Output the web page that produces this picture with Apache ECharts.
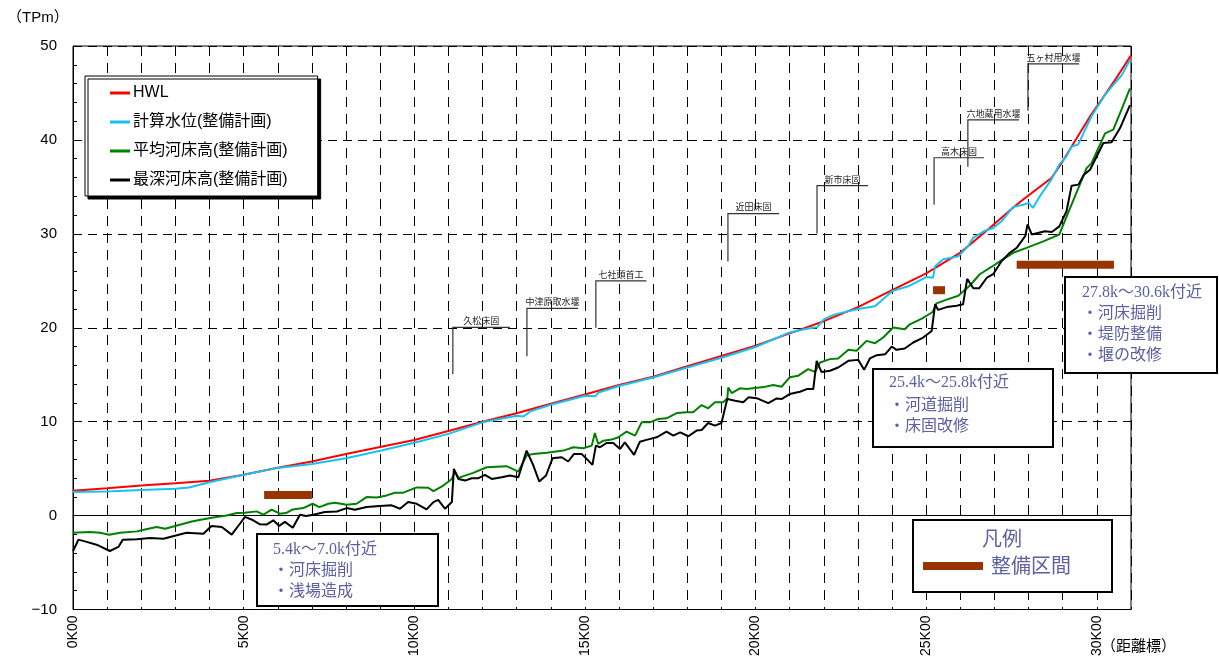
<!DOCTYPE html>
<html>
<head>
<meta charset="utf-8">
<script src="https://cdn.jsdelivr.net/npm/echarts@6/dist/echarts.min.js"></script>
<style>
html,body{margin:0;padding:0;background:#fff;}
#chart{width:1219px;height:659px;}
</style>
</head>
<body>
<div id="chart"></div>
<script>
// ---------- data ----------
const seriesNames = ['HWL', '計算水位(整備計画)', '平均河床高(整備計画)', '最深河床高(整備計画)'];

const hwl = [[0,2.65],[1,2.9],[2,3.2],[3,3.45],[4,3.72],[5,4.35],[6,5.1],[7,5.75],[8,6.55],[9,7.3],[10,8.05],[11,9.0],[12,10.0],[13,10.9],[14,11.9],[15,12.9],[16,13.9],[17,14.8],[18,15.9],[19,17.0],[20,18.1],[21,19.4],[22,20.7],[23,22.2],[24,24.0],[25,25.8],[26,28.0],[26.87,30.64],[27.55,32.8],[27.84,33.65],[28.67,35.95],[28.96,37.5],[29.26,39.3],[29.8,42.5],[30.14,44.3],[30.5,46.2],[31,49.0]];

const calcWL = [[0,2.5],[1,2.57],[2,2.72],[3,2.85],[3.4,3.0],[4,3.55],[5,4.34],[6,5.08],[7,5.5],[8,6.1],[9,6.9],[10,7.75],[11,8.7],[12,9.93],[13,10.64],[13.2,10.55],[13.4,11.1],[14,11.8],[15,12.76],[15.3,12.7],[15.4,13.1],[16,13.8],[17,14.7],[18,15.77],[19,16.8],[20,17.95],[21,19.5],[21.5,19.9],[21.8,20.05],[22,20.9],[22.3,21.4],[23,22.0],[23.5,22.3],[24,23.9],[24.5,24.45],[25,25.4],[25.2,25.33],[25.26,26.56],[25.5,27.3],[25.94,27.6],[26.23,28.7],[26.38,29.6],[26.7,30.3],[26.95,30.6],[27.21,31.35],[27.55,32.87],[27.84,33.1],[28.0,33.3],[28.13,32.77],[28.33,34.0],[28.67,35.8],[28.9,37.4],[29.11,38.25],[29.26,39.3],[29.45,39.5],[29.84,42.5],[30.24,44.8],[30.48,45.86],[30.73,46.9],[30.97,48.5]];

const avgBed = [[0,-1.82],[0.5,-1.75],[0.79,-1.82],[1.06,-2.03],[1.38,-1.82],[1.87,-1.68],[2.11,-1.47],[2.45,-1.22],[2.7,-1.4],[3.13,-0.97],[3.48,-0.62],[3.82,-0.4],[4.2,-0.15],[4.5,0.02],[4.8,0.27],[5.04,0.3],[5.38,0.45],[5.58,0.1],[5.82,0.63],[6.06,0.2],[6.24,0.27],[6.44,0.66],[6.75,0.8],[7.02,1.26],[7.22,0.9],[7.48,1.26],[7.68,1.36],[8.02,1.15],[8.31,1.26],[8.6,1.97],[8.9,1.93],[9.19,2.15],[9.43,2.44],[9.68,2.44],[10.07,3.0],[10.41,2.97],[10.56,2.6],[10.85,3.2],[11.1,3.9],[11.19,4.69],[11.3,4.0],[11.44,4.2],[11.73,4.55],[12.12,5.15],[12.7,5.26],[13.05,4.69],[13.29,6.39],[13.49,6.57],[13.88,6.68],[14.37,6.92],[14.66,7.28],[14.95,7.17],[15.2,7.45],[15.29,8.8],[15.39,7.63],[15.54,7.98],[15.78,8.09],[15.98,8.34],[16.22,8.94],[16.47,8.51],[16.66,9.93],[16.9,9.93],[17.15,10.28],[17.39,10.36],[17.69,10.92],[17.98,11.0],[18.17,11.0],[18.42,11.77],[18.61,11.42],[18.81,12.06],[19.05,12.06],[19.17,12.48],[19.2,13.65],[19.3,13.05],[19.54,13.55],[19.74,13.47],[20.23,13.68],[20.52,13.9],[20.76,13.72],[21.0,14.72],[21.25,14.9],[21.54,15.6],[21.74,15.3],[21.89,16.3],[22.18,16.66],[22.42,16.73],[22.72,17.65],[22.96,17.55],[23.25,18.6],[23.5,18.36],[23.74,18.96],[24.03,20.02],[24.37,19.84],[24.52,20.37],[24.87,20.97],[25.19,21.68],[25.3,22.6],[25.6,23.0],[25.94,23.4],[26.28,24.5],[26.57,25.7],[26.92,26.5],[27.21,27.2],[27.55,27.98],[27.94,28.5],[28.43,29.2],[28.9,29.93],[29.2,32.6],[29.4,34.36],[29.7,37.0],[29.84,37.5],[30.24,40.7],[30.48,41.1],[30.68,42.85],[30.97,45.5]];

const deepBed = [[0,-3.8],[0.16,-2.56],[0.4,-2.8],[0.69,-3.1],[1.08,-3.77],[1.33,-3.34],[1.46,-2.56],[1.87,-2.53],[2.26,-2.38],[2.65,-2.46],[3.04,-2.1],[3.33,-1.82],[3.82,-1.93],[4.06,-1.1],[4.36,-1.22],[4.65,-2.03],[4.89,-0.87],[5.04,-0.14],[5.28,-0.5],[5.48,-0.93],[5.67,-0.96],[5.87,-0.5],[6.04,-1.1],[6.21,-0.67],[6.44,-1.29],[6.65,0.09],[6.83,-0.05],[7.04,0.09],[7.38,0.38],[7.73,0.44],[8.02,0.8],[8.26,0.62],[8.6,0.91],[8.99,1.02],[9.34,1.09],[9.58,0.73],[9.82,1.44],[10.07,1.26],[10.36,0.66],[10.56,1.44],[10.7,1.68],[10.9,0.73],[11.1,1.44],[11.16,4.98],[11.29,3.9],[11.49,3.73],[11.68,3.98],[11.88,3.98],[12.07,4.34],[12.27,3.9],[12.56,4.09],[12.8,4.27],[13.05,4.09],[13.29,6.92],[13.49,5.33],[13.66,3.63],[13.86,4.27],[14.05,6.1],[14.32,6.21],[14.51,5.76],[14.68,6.57],[14.9,6.57],[15.05,6.04],[15.22,5.4],[15.32,7.45],[15.44,7.28],[15.64,7.74],[15.83,7.74],[16.03,7.1],[16.17,7.8],[16.44,6.46],[16.61,7.87],[16.83,8.09],[17.1,8.34],[17.39,8.94],[17.59,8.51],[17.79,8.87],[18.03,8.45],[18.27,9.05],[18.42,9.12],[18.61,9.86],[18.81,9.58],[19.0,9.86],[19.17,12.41],[19.4,12.23],[19.64,12.06],[19.79,12.59],[20.03,12.5],[20.37,11.98],[20.62,12.48],[20.76,12.41],[21.0,12.94],[21.3,13.19],[21.5,13.47],[21.69,13.47],[21.79,16.48],[21.93,15.3],[22.18,15.42],[22.42,15.77],[22.72,16.48],[23.01,16.58],[23.18,15.52],[23.35,16.73],[23.55,17.08],[23.8,17.19],[23.99,18.0],[24.13,17.65],[24.37,17.79],[24.62,18.43],[24.91,18.96],[25.16,19.66],[25.26,22.5],[25.35,21.9],[25.6,22.2],[25.89,22.35],[26.08,22.5],[26.2,25.2],[26.38,24.2],[26.55,24.2],[26.77,25.3],[26.96,25.7],[27.21,27.1],[27.45,27.98],[27.65,28.5],[27.9,29.75],[27.97,31.0],[28.09,29.93],[28.48,30.28],[28.68,30.2],[28.9,30.8],[29.11,32.4],[29.26,35.13],[29.46,35.24],[29.62,36.3],[29.8,36.83],[30.19,39.67],[30.43,39.74],[30.68,41.26],[30.97,43.7]];

// facility annotations: [km, base elevation, top elevation, end km]
const facilityNames = ['久松床固', '中津原取水堰', '七社頭首工', '近田床固', '新市床固', '高木床固', '六地蔵用水堰', '五ヶ村用水堰'];
const facilityLeaders = [[11.13,15.06,20.05,12.8],[13.3,16.97,22.07,14.8],[15.32,20.0,25.0,16.8],[19.19,27.06,32.16,20.69],[21.8,30.04,35.13,23.29],[25.23,33.1,38.1,26.69],[26.22,37.15,42.14,27.72],[27.98,43.1,48.09,29.48]];

// improvement sections: [start km, end km, elevation]
const sections = [[5.6,7.0,2.2],[25.2,25.55,24.0],[27.65,30.5,26.7]];

const xTickValues = [0,5,10,15,20,25,30];
const xTickLabels = ['0K00','5K00','10K00','15K00','20K00','25K00','30K00'];
const yTickValues = [-10,0,10,20,30,40,50];
const yTickLabels = ['−10','0','10','20','30','40','50'];

const callouts = [
  ['5.4k～7.0k付近', '・河床掘削', '・浅場造成'],
  ['25.4k～25.8k付近', '・河道掘削', '・床固改修'],
  ['27.8k～30.6k付近', '・河床掘削', '・堤防整備', '・堰の改修']
];
const legendBoxTitle = '凡例';
const legendBoxItem = '整備区間';
const yUnit = '（TPm）';
const xUnit = '（距離標）';

// ---------- chart ----------
const chart = echarts.init(document.getElementById('chart'));
const sansFont = "'Liberation Sans','Noto Sans CJK JP',sans-serif";
const calloutFont = "'Liberation Serif','Noto Sans CJK JP',serif";
const calloutColor = '#5c5fa3';
const brown = '#993300';

function lineSeries(name, data, color) {
  return {
    name: name, type: 'line', data: data, color: color,
    showSymbol: false, symbol: 'none', smooth: false,
    lineStyle: { color: color, width: 2 }, z: 3, animation: false
  };
}

const graphics = [];
function box(l, t, r, b, lines, lineYs, textX, fs) {
  graphics.push({ type: 'rect', z: 100, shape: { x: l, y: t, width: r - l, height: b - t },
    style: { fill: '#fff', stroke: '#000', lineWidth: 2 } });
  lines.forEach((s, i) => {
    graphics.push({ type: 'text', z: 101, x: textX, y: lineYs[i],
      style: { text: s, fill: calloutColor, fontSize: fs, fontFamily: calloutFont, verticalAlign: 'middle', align: 'left' } });
  });
}
box(257, 534, 438, 606, callouts[0], [550, 571, 592], 273, 16);
box(873, 369, 1053, 447, callouts[1], [383, 406, 427], 889, 16);
box(1065, 277, 1217, 373, callouts[2], [293, 314, 335, 356], 1082, 16);
// 凡例 box
graphics.push({ type: 'rect', z: 100, shape: { x: 913, y: 520, width: 199, height: 72 },
  style: { fill: '#fff', stroke: '#000', lineWidth: 2 } });
graphics.push({ type: 'text', z: 101, x: 1002, y: 540,
  style: { text: legendBoxTitle, fill: calloutColor, fontSize: 20, fontFamily: sansFont, align: 'center', verticalAlign: 'middle' } });
graphics.push({ type: 'rect', z: 101, shape: { x: 923, y: 562, width: 60, height: 8 }, style: { fill: brown } });
graphics.push({ type: 'text', z: 101, x: 991, y: 567,
  style: { text: legendBoxItem, fill: calloutColor, fontSize: 20, fontFamily: sansFont, align: 'left', verticalAlign: 'middle' } });
// unit labels
graphics.push({ type: 'text', z: 101, x: 7, y: 18,
  style: { text: yUnit, fill: '#000', fontSize: 15, fontFamily: sansFont, verticalAlign: 'middle' } });
graphics.push({ type: 'text', z: 101, x: 1101, y: 647,
  style: { text: xUnit, fill: '#000', fontSize: 15, fontFamily: sansFont, verticalAlign: 'middle' } });

const option = {
  backgroundColor: '#fff',
  animation: false,
  textStyle: { fontFamily: sansFont },
  grid: { left: 73, right: 88, top: 46, bottom: 48, show: true, borderColor: '#000', borderWidth: 1, backgroundColor: 'transparent' },
  legend: {
    data: seriesNames, orient: 'vertical', left: 85, top: 76,
    icon: 'rect', itemWidth: 20, itemHeight: 3, itemGap: 13,
    padding: [9, 30, 8, 25],
    backgroundColor: '#fff', borderColor: '#000', borderWidth: 1,
    shadowColor: '#000', shadowBlur: 0, shadowOffsetX: 3, shadowOffsetY: 3,
    textStyle: { fontSize: 16, color: '#000', fontFamily: sansFont, lineHeight: 16, padding: [0, 0, 0, -2] },
    selectedMode: false, z: 50
  },
  xAxis: {
    type: 'value', min: 0, max: 31, interval: 1,
    axisLine: { show: true, lineStyle: { color: '#000', width: 1 } },
    axisTick: { show: false },
    axisLabel: {
      rotate: 90, fontSize: 14, color: '#000', margin: 6, fontFamily: sansFont,
      formatter: v => { const i = xTickValues.indexOf(v); return i >= 0 ? xTickLabels[i] : ''; }
    },
    splitLine: { show: true, lineStyle: { color: '#000', type: [10, 7], width: 1 } }
  },
  yAxis: {
    type: 'value', min: -10, max: 50, interval: 10,
    axisLine: { show: true, lineStyle: { color: '#000', width: 1 } },
    axisTick: { show: true, inside: true, length: 5, lineStyle: { color: '#000' } },
    minorTick: { show: true, splitNumber: 5, length: 4, lineStyle: { color: '#000' } },
    axisLabel: {
      fontSize: 15, color: '#000', margin: 16, fontFamily: sansFont,
      formatter: v => { const i = yTickValues.indexOf(v); return i >= 0 ? yTickLabels[i] : ''; }
    },
    splitLine: { show: true, lineStyle: { color: '#000', type: [9, 6], width: 1 } }
  },
  graphic: graphics,
  series: [
    lineSeries(seriesNames[0], hwl, '#ff0000'),
    lineSeries(seriesNames[1], calcWL, '#14c3f2'),
    lineSeries(seriesNames[2], avgBed, '#008000'),
    lineSeries(seriesNames[3], deepBed, '#000000'),
    {
      type: 'custom', name: 'facilities', data: facilityLeaders, z: 4, silent: true,
      encode: { x: [0, 3], y: [1, 2] },
      renderItem: (params, api) => {
        const x = api.value(0), yb = api.value(1), yt = api.value(2), xe = api.value(3);
        const p0 = api.coord([x, yb]), p1 = api.coord([x, yt]), p2 = api.coord([xe, yt]);
        return { type: 'group', children: [
          { type: 'polyline', shape: { points: [p0, p1, p2] }, style: { stroke: '#333', lineWidth: 1.2, fill: null } },
          { type: 'text', x: (p1[0] + p2[0]) / 2, y: p1[1] - 2,
            style: { text: facilityNames[params.dataIndex], align: 'center', verticalAlign: 'bottom', fontSize: 9, fontFamily: "'Noto Sans CJK JP',sans-serif", fill: '#222' } }
        ] };
      }
    },
    {
      type: 'custom', name: 'sections', data: sections, z: 5, silent: true,
      encode: { x: [0, 1], y: 2 },
      renderItem: (params, api) => {
        const a = api.coord([api.value(0), api.value(2)]);
        const b = api.coord([api.value(1), api.value(2)]);
        return { type: 'rect', shape: { x: a[0], y: a[1] - 4, width: b[0] - a[0], height: 8 }, style: { fill: brown } };
      }
    }
  ]
};
chart.setOption(option);
</script>
</body>
</html>
